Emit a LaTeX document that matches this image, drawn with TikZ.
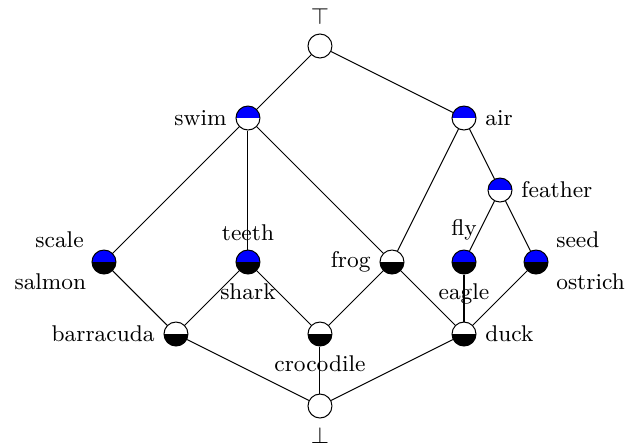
\documentclass[tikz,border=0pt]{standalone}
\usepackage{tikz}

\begin{document}
\begin{tikzpicture}[x=1cm, y=1cm,
	every node/.style={font=\fontsize{9}{11}\selectfont},
	concept/.style={circle, draw, inner sep=0pt, minimum size=0.333cm},
	attr/.style={concept, path picture={\fill[blue] (path picture bounding box.north west) rectangle (path picture bounding box.east);}},
	obj/.style={concept, path picture={\fill[black] (path picture bounding box.south west) rectangle (path picture bounding box.east);}},
	both/.style={concept, path picture={\fill[blue] (path picture bounding box.north west) rectangle (path picture bounding box.east);
		\fill[black] (path picture bounding box.south west) rectangle (path picture bounding box.east);}},
	upside/.style={yshift=-1.5pt},
	downside/.style={yshift=2.3pt}]
	\useasboundingbox (-4.444,-0.528) rectangle (4.25,5.639);
	% top and bottom
	\node [concept, label=above:$\top$] (top) at (0,5) {};
	\node [concept, label=below:$\bot$] (bot) at (0,0) {};
	% attributes
	\node [attr, label=left:swim] (swim) at (-1,4) {};
	\node [attr, label=right:air] (air) at (2,4) {};
	\node [attr, label=right:feather] (feather) at (2.5,3) {};
	\node [both, label={[upside, xshift=-1pt]above left:scale}, label={[downside]below left:salmon}] (scale) at (-3,2) {};
	\node [both, label=above:teeth, label=below:shark] (teeth) at (-1,2) {};
	\node [obj, label=left:frog] (frog) at (1,2) {};
	\node [both, label=above:fly, label=below:eagle] (fly) at (2,2) {};
	\node [both, label={[upside, xshift=1pt]above right:seed}, label={[downside, xshift=1pt]below right:ostrich}] (seed) at (3,2) {};
	% objects
	\node [obj, label=left:barracuda] (barracuda) at (-2,1) {};
	\node [obj, label=below:crocodile] (crocodile) at (0,1) {};
	\node [obj, label=right:duck] (duck) at (2,1) {};
	% edges
	\draw (top) -- (swim);
	\draw (top) -- (air);
	\draw (swim) -- (scale);
	\draw (swim) -- (teeth);
	\draw (swim) -- (frog);
	\draw (air) -- (frog);
	\draw (air) -- (feather);
	\draw (feather) -- (fly);
	\draw (feather) -- (seed);
	\draw (scale) -- (barracuda);
	\draw (teeth) -- (barracuda);
	\draw (teeth) -- (crocodile);
	\draw (frog) -- (crocodile);
	\draw (frog) -- (duck);
	\draw (fly) -- (duck);
	\draw (seed) -- (duck);
	\draw (barracuda) -- (bot);
	\draw (crocodile) -- (bot);
	\draw (duck) -- (bot);
\end{tikzpicture}
\end{document}
